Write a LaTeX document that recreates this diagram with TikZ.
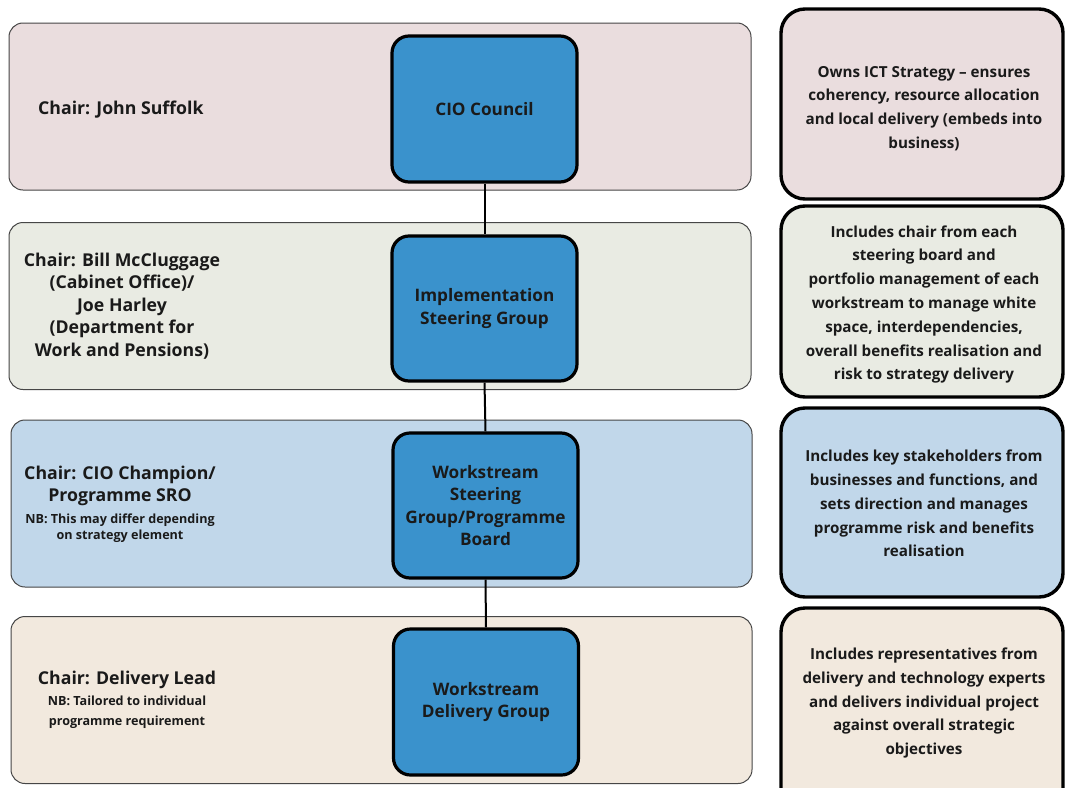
\documentclass[tikz,border=0pt]{standalone}
\usepackage{fontspec}
\setmainfont{Open Sans}
\definecolor{bandA}{RGB}{234,221,222}
\definecolor{bandB}{RGB}{233,235,227}
\definecolor{bandC}{RGB}{193,215,234}
\definecolor{bandD}{RGB}{242,233,222}
\definecolor{boxblue}{RGB}{58,146,204}
\definecolor{txt}{RGB}{26,26,26}
\definecolor{bandedge}{RGB}{70,70,70}
\begin{document}
\begin{tikzpicture}[x=1pt,y=-1pt,
  band/.style={draw=bandedge,line width=1pt,rounded corners=14pt,minimum width=742pt,minimum height=167pt,inner sep=0pt},
  bluebox/.style={draw=black,line width=3.2pt,fill=boxblue,rounded corners=17pt,minimum width=185pt,minimum height=146pt,inner sep=0pt,
     text=txt,font=\bfseries\fontsize{17.2}{22.5}\selectfont,align=center},
  notebox/.style={draw=black,line width=3.4pt,rounded corners=24pt,minimum width=282pt,minimum height=190pt,inner sep=0pt},
  notetext/.style={text=txt,font=\bfseries\fontsize{15.2}{23.8}\selectfont,align=center,inner sep=0pt},
  chair/.style={text=txt,font=\bfseries\fontsize{17.7}{22.5}\selectfont,align=center,inner sep=0pt},
  small/.style={text=txt,font=\bfseries\fontsize{12.6}{16}\selectfont,align=center,inner sep=0pt},
  link/.style={draw=black,line width=2pt}]
\useasboundingbox (0,0) rectangle (1065,787);
\fill[white] (0,0) rectangle (1065,787);

% bands
\node[band,fill=bandA] (bandA) at (380,106.5) {};
\node[band,fill=bandB] (bandB) at (380,306) {};
\node[band,fill=bandC,minimum width=741pt] (bandC) at (381.5,503.5) {};
\node[band,fill=bandD,minimum width=741pt] (bandD) at (381.5,700) {};

% chair texts
\node[chair,anchor=west] (chA) at (38,109.5) {Chair: John Suffolk};
\node[chair] (chB) at (122,306) {Chair: Bill McCluggage\\(Cabinet Office)/\\Joe Harley\\(Department for\\Work and Pensions)};
\node[chair] (chC) at (120,486) {Chair: CIO Champion/\\Programme SRO};
\node[small] (nbC) at (120,528.5) {NB: This may differ depending\\on strategy element};
\node[chair] (chD) at (127,679.5) {Chair: Delivery Lead};
\node[small,font=\bfseries\fontsize{12.6}{20}\selectfont] (nbD) at (127,712.5) {NB: Tailored to individual\\programme requirement};

% blue boxes
\node[bluebox] (b1) at (484.5,109) {CIO Council};
\node[bluebox,minimum height=145pt] (b2) at (484.5,308.5) {Implementation\\Steering Group};
\node[bluebox,minimum height=145pt] (b3) at (485.5,505.5) {Workstream\\Steering\\Group/Programme\\Board};
\node[bluebox] (b4) at (486,702) {Workstream\\Delivery Group};

% connectors
\draw[link] (b1.south) -- (b2.north);
\draw[link] (b2.south) -- (b3.north);
\draw[link] (b3.south) -- (b4.north);

% note boxes
\node[notebox,fill=bandA] (n1) at (922,104) {};
\node[notebox,fill=bandB,minimum height=191pt] (n2) at (922,301.5) {};
\node[notebox,fill=bandC,minimum height=189pt] (n3) at (922,502.5) {};
\node[notebox,fill=bandD,minimum height=204pt] (n4) at (922,710) {};

\node[notetext] (t1) at (924,108.5) {Owns ICT Strategy -- ensures\\coherency, resource allocation\\and local delivery (embeds into\\business)};
\node[notetext] (t2) at (924,304.5) {Includes chair from each\\steering board and\\portfolio management of each\\workstream to manage white\\space, interdependencies,\\overall benefits realisation and\\risk to strategy delivery};
\node[notetext] (t3) at (924,503.5) {Includes key stakeholders from\\businesses and functions, and\\sets direction and manages\\programme risk and benefits\\realisation};
\node[notetext] (t4) at (924,703) {Includes representatives from\\delivery and technology experts\\and delivers individual project\\against overall strategic\\objectives};
\end{tikzpicture}
\end{document}
